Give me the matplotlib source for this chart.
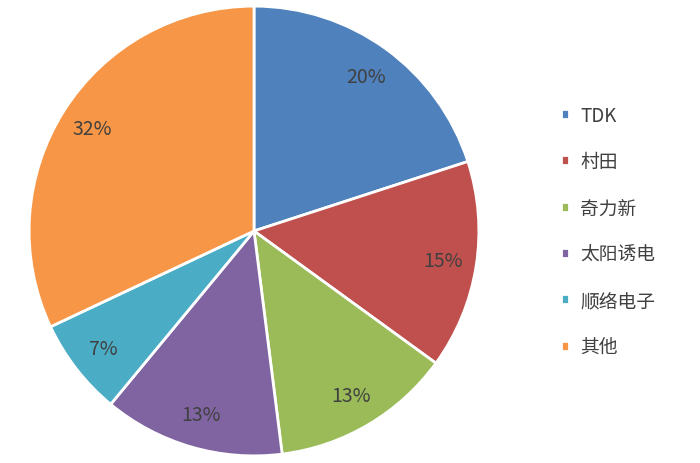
import matplotlib.pyplot as plt

plt.rcParams['font.family'] = ['Noto Sans CJK SC', 'DejaVu Sans']

labels = ['TDK', '村田', '奇力新', '太阳诱电', '顺络电子', '其他']
shares = [20, 15, 13, 13, 7, 32]
colors = ['#4F81BD', '#C0504D', '#9BBB59', '#8064A2', '#4BACC6', '#F79646']

fig = plt.figure(figsize=(7, 4.64), dpi=100)
ax = fig.add_axes([28 / 700, 6 / 464, 452 / 700, 452 / 464])

wedges, texts, autotexts = ax.pie(
    shares, colors=colors, startangle=90, counterclock=False,
    autopct='%d%%', pctdistance=0.85, radius=1,
    wedgeprops={'edgecolor': 'white', 'linewidth': 2},
    textprops={'fontsize': 14, 'color': '#404040'})
ax.set_xlim(-1.005, 1.005)
ax.set_ylim(-1.005, 1.005)
ax.set_aspect('equal')

fig.legend(wedges, labels, loc='center left', bbox_to_anchor=(544 / 700, 0.5),
           frameon=False, fontsize=13.5, labelspacing=1.35,
           handlelength=0.43, handleheight=0.43, handletextpad=0.6,
           labelcolor='#404040')

fig.savefig('out.png')
